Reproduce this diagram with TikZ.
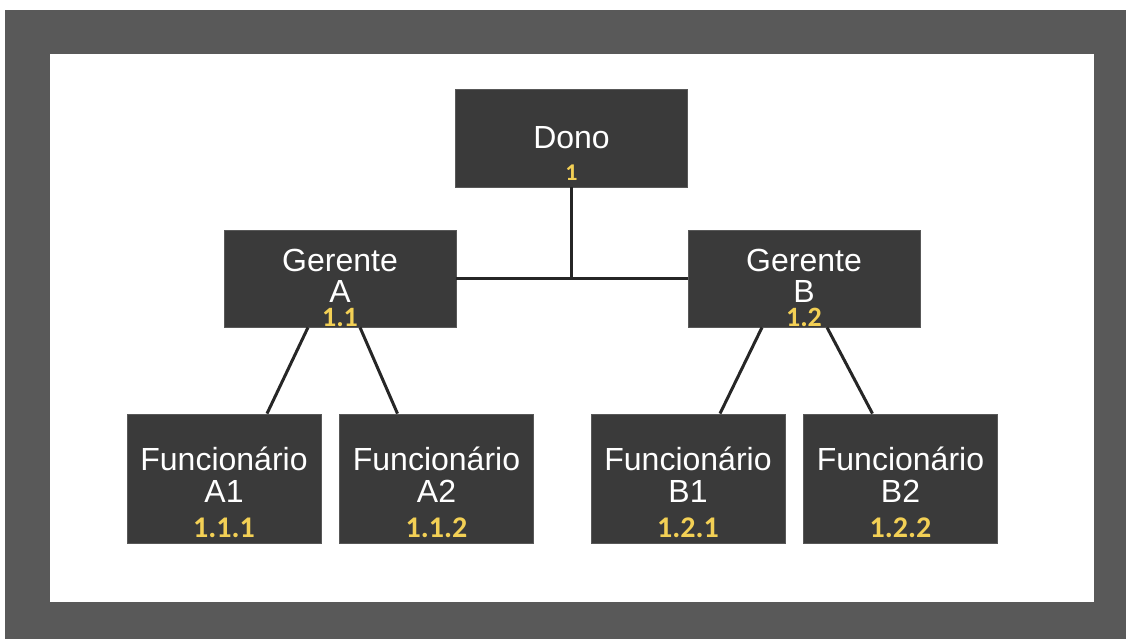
\documentclass[tikz,border=0pt]{standalone}
\usepackage{fontspec}
\setmainfont{Liberation Sans}
\newfontfamily\numfont{Carlito}
\usepackage{tikz}
\usetikzlibrary{positioning}
\definecolor{framegray}{HTML}{595959}
\definecolor{boxfill}{HTML}{3A3A3A}
\definecolor{numyel}{HTML}{F3D055}
\definecolor{linecol}{HTML}{262626}
\tikzset{
  role/.style={rectangle, fill=boxfill, draw=boxfill!85!white, line width=0.4pt,
               text=white, align=center, inner sep=0pt},
  boss/.style={role, minimum width=116pt, minimum height=49pt,
               text depth=1pt, font=\fontsize{16}{16}\selectfont},
  mgr/.style={role, minimum width=116pt, minimum height=48.5pt,
              text depth=3pt, font=\fontsize{16}{15.5}\selectfont},
  emp/.style={role, minimum width=97pt, minimum height=64.5pt,
              text depth=4pt, font=\fontsize{16}{16}\selectfont},
  num/.style={anchor=base, text=numyel, inner sep=0pt},
  link/.style={draw=linecol, line width=1.5pt},
}

\begin{document}
\begin{tikzpicture}[x=0.5pt, y=-0.5pt]
  \useasboundingbox (0,0) rectangle (1126,639);
  % frame
  \fill[framegray] (5,10) rectangle (1126,639);
  \fill[white] (50,54) rectangle (1094,602);

  % boxes
  \node[boss] (dono) at (571.5,138) {Dono};
  \node[mgr]  (gerA) at (340,278.5) {Gerente\\A};
  \node[mgr]  (gerB) at (804,278.5) {Gerente\\B};
  \node[emp]  (funA1) at (224,478.5) {Funcionário\\A1};
  \node[emp]  (funA2) at (436.5,478.5) {Funcionário\\A2};
  \node[emp]  (funB1) at (688,478.5) {Funcionário\\B1};
  \node[emp]  (funB2) at (900.5,478.5) {Funcionário\\B2};

  % numbering
  \node[num, font=\numfont\bfseries\fontsize{12}{13}\selectfont] (n1) at ([yshift=3.5pt]dono.south) {1};
  \node[num, font=\numfont\bfseries\fontsize{14}{15}\selectfont] (n11) at ([yshift=0.5pt]gerA.south) {1.1};
  \node[num, font=\numfont\bfseries\fontsize{14}{15}\selectfont] (n12) at ([yshift=0.5pt]gerB.south) {1.2};
  \foreach \b/\t in {funA1/1.1.1, funA2/1.1.2, funB1/1.2.1, funB2/1.2.2}
    \node[num, font=\numfont\bfseries\fontsize{15}{16}\selectfont] (n\b) at ([yshift=3pt]\b.south) {\t};

  % connectors
  \coordinate (joint) at (dono.south |- gerA.east);
  \draw[link] (dono.south) -- (joint);
  \draw[link] (gerA.east) -- (gerB.west);
  \draw[link] ([xshift=-16pt]gerA.south) -- ([xshift=21.5pt]funA1.north);
  \draw[link] ([xshift=10pt]gerA.south) -- ([xshift=-19.5pt]funA2.north);
  \draw[link] ([xshift=-21pt]gerB.south) -- ([xshift=16pt]funB1.north);
  \draw[link] ([xshift=11.5pt]gerB.south) -- ([xshift=-14pt]funB2.north);
\end{tikzpicture}
\end{document}
